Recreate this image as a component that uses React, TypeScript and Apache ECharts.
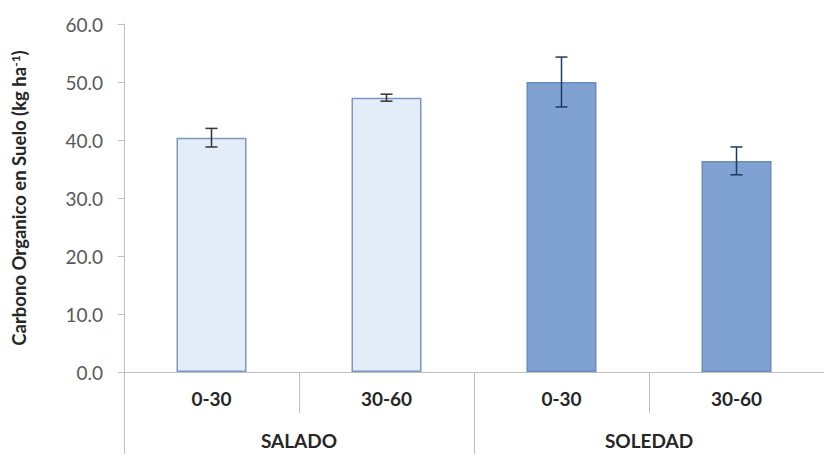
import React, { useEffect, useRef } from "react";
import * as echarts from "echarts";

const depths = ["0-30", "30-60", "0-30", "30-60"];
const sites = ["SALADO", "SOLEDAD"];
const values = [40.4, 47.3, 50.0, 36.4];
const errors = [1.6, 0.6, 4.3, 2.4];
const yTicks = { min: 0, max: 60, interval: 10 };

const barFills = ["#e3edf8", "#e3edf8", "#7fa2d3", "#7fa2d3"];
const barBorders = ["#7b97c4", "#7b97c4", "#6b8bbd", "#6b8bbd"];
const errColors = ["#333333", "#333333", "#1f3a60", "#1f3a60"];

export default function App() {
  const ref = useRef<HTMLDivElement>(null);
  useEffect(() => {
    if (!ref.current) return;
    const chart = echarts.init(ref.current, undefined, { renderer: "svg" });
    const font = "Lato, 'Open Sans', sans-serif";
    chart.setOption({
      animation: false,
      grid: { left: 124, top: 24, width: 708, height: 348 },
      xAxis: [
        {
          type: "category",
          data: depths,
          position: "bottom",
          axisLine: { show: true, lineStyle: { color: "#bfbfbf", width: 1 } },
          axisTick: { show: true, length: 41, lineStyle: { color: "#bfbfbf" } },
          axisLabel: {
            margin: 17,
            color: "#262626",
            fontFamily: font,
            fontWeight: "bold",
            fontSize: 19,
          },
        },
        {
          type: "category",
          data: sites,
          position: "bottom",
          axisLine: { show: false },
          axisTick: { show: true, length: 82, lineStyle: { color: "#bfbfbf" } },
          axisLabel: {
            margin: 59,
            color: "#262626",
            fontFamily: font,
            fontWeight: "bold",
            fontSize: 19,
          },
        },
      ],
      yAxis: {
        type: "value",
        min: yTicks.min,
        max: yTicks.max,
        interval: yTicks.interval,
        axisLine: { show: true, lineStyle: { color: "#bfbfbf" } },
        axisTick: { show: true, length: 6, lineStyle: { color: "#bfbfbf" } },
        splitLine: { show: false },
        axisLabel: {
          margin: 21,
          color: "#595959",
          fontFamily: font,
          fontSize: 19,
          formatter: (v: number) => v.toFixed(1),
        },
        name: "{a|Carbono Organico en Suelo (kg ha}{s|-1}{a|)}",
        nameLocation: "middle",
        nameGap: 96,
        nameRotate: 90,
        nameTextStyle: {
          rich: {
            a: { fontFamily: font, fontWeight: "bold", fontSize: 18.5, color: "#262626" },
            s: {
              fontFamily: font,
              fontWeight: "bold",
              fontSize: 12,
              color: "#262626",
              verticalAlign: "top",
              padding: [0, 0, 7, 0],
            },
          },
        },
      },
      series: [
        {
          type: "bar",
          xAxisIndex: 0,
          barWidth: "40%",
          data: values.map((v, i) => ({
            value: v,
            itemStyle: { color: barFills[i], borderColor: barBorders[i], borderWidth: 1.5 },
          })),
        },
        {
          type: "custom",
          xAxisIndex: 0,
          data: values.map((v, i) => [i, v - errors[i], v + errors[i]]),
          encode: { x: 0, y: [1, 2] },
          z: 10,
          renderItem: (params: any, api: any) => {
            const i = api.value(0);
            const lo = api.coord([i, api.value(1)]);
            const hi = api.coord([i, api.value(2)]);
            const w = 6;
            const style = { stroke: errColors[i], lineWidth: 1.5 };
            return {
              type: "group",
              children: [
                { type: "line", shape: { x1: hi[0], y1: hi[1], x2: lo[0], y2: lo[1] }, style },
                { type: "line", shape: { x1: hi[0] - w, y1: hi[1], x2: hi[0] + w, y2: hi[1] }, style },
                { type: "line", shape: { x1: lo[0] - w, y1: lo[1], x2: lo[0] + w, y2: lo[1] }, style },
              ],
            };
          },
        },
      ],
    });
    return () => chart.dispose();
  }, []);
  return (
    <div
      ref={ref}
      style={{ position: "fixed", left: 0, top: 0, width: 824, height: 454, background: "#ffffff" }}
    />
  );
}
